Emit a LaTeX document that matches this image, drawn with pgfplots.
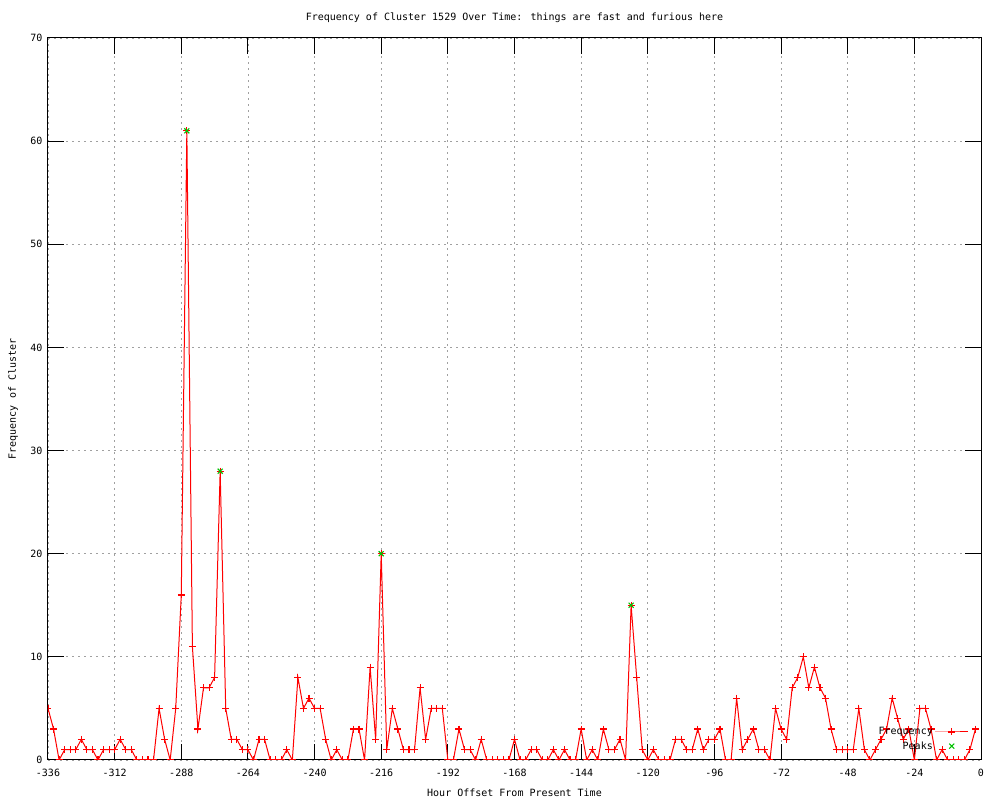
\documentclass[border=0pt]{standalone}
\usepackage{fontspec}
\setmainfont{DejaVu Sans Mono}
\usepackage{pgfplots}
\pgfplotsset{compat=1.18}
\definecolor{gpred}{RGB}{255,0,0}
\definecolor{gpgreen}{RGB}{0,192,0}
\definecolor{gridgray}{RGB}{160,160,160}
\begin{document}
\begin{tikzpicture}
\begin{axis}[
  name=ax,
  scale only axis,
  width=933pt, height=722pt,
  xmin=-336, xmax=0, ymin=0, ymax=70,
  xtick={-336,-312,-288,-264,-240,-216,-192,-168,-144,-120,-96,-72,-48,-24,0},
  xticklabels={-336,-312,-288,-264,-240,-216,-192,-168,-144,-120,-96,-72,-48,-24,0},
  ytick={0,10,20,30,40,50,60,70},
  yticklabels={0,10,20,30,40,50,60,70},
  minor tick num=0,
  major tick length=16pt,
  tick align=inside,
  tick style={black, line width=1pt},
  axis line style={black, line width=1pt},
  grid=major,
  major grid style={gridgray, line width=0.8pt, dash pattern=on 2pt off 4pt},
  xticklabel style={anchor=center, yshift=-13pt},
  yticklabel style={xshift=-2pt},
  title={Frequency of Cluster 1529 Over Time: things are fast and furious here},
  every axis title/.style={at={(rel axis cs:0.5,1)}, yshift=20pt, anchor=center},
  xlabel={Hour Offset From Present Time},
  every axis x label/.style={at={(rel axis cs:0.5,0)}, yshift=-33pt, anchor=center},
  ylabel={Frequency of Cluster},
  every axis y label/.style={at={(rel axis cs:0,0.5)}, xshift=-35pt, rotate=90, anchor=center},
  clip marker paths=true,
  legend plot pos=right,
  legend cell align=right,
  legend image code/.code={\draw[mark repeat=2,mark phase=2,#1] plot coordinates {(0pt,0pt) (16.5pt,0pt) (33pt,0pt)};},
  legend style={at={(rel axis cs:1,0)}, anchor=south east, xshift=-9pt, yshift=4.5pt, draw=none, fill=none, row sep=0pt,
    nodes={inner ysep=2.6pt}},
]
\addplot[color=gpred, draw=gpred, line width=1pt, mark=+, mark size=3.5pt, mark options={draw=gpred, color=gpred, solid, line width=1.1pt}] coordinates {
(-336,5) (-334,3) (-332,0) (-330,1) (-328,1) (-326,1) (-324,2) (-322,1) (-320,1) (-318,0)
(-316,1) (-314,1) (-312,1) (-310,2) (-308,1) (-306,1) (-304,0) (-302,0) (-300,0) (-298,0)
(-296,5) (-294,2) (-292,0) (-290,5) (-288,16) (-286,61) (-284,11) (-282,3) (-280,7) (-278,7)
(-276,8) (-274,28) (-272,5) (-270,2) (-268,2) (-266,1) (-264,1) (-262,0) (-260,2) (-258,2)
(-256,0) (-254,0) (-252,0) (-250,1) (-248,0) (-246,8) (-244,5) (-242,6) (-240,5) (-238,5)
(-236,2) (-234,0) (-232,1) (-230,0) (-228,0) (-226,3) (-224,3) (-222,0) (-220,9) (-218,2)
(-216,20) (-214,1) (-212,5) (-210,3) (-208,1) (-206,1) (-204,1) (-202,7) (-200,2) (-198,5)
(-196,5) (-194,5) (-192,0) (-190,0) (-188,3) (-186,1) (-184,1) (-182,0) (-180,2) (-178,0)
(-176,0) (-174,0) (-172,0) (-170,0) (-168,2) (-166,0) (-164,0) (-162,1) (-160,1) (-158,0)
(-156,0) (-154,1) (-152,0) (-150,1) (-148,0) (-146,0) (-144,3) (-142,0) (-140,1) (-138,0)
(-136,3) (-134,1) (-132,1) (-130,2) (-128,0) (-126,15) (-124,8) (-122,1) (-120,0) (-118,1)
(-116,0) (-114,0) (-112,0) (-110,2) (-108,2) (-106,1) (-104,1) (-102,3) (-100,1) (-98,2)
(-96,2) (-94,3) (-92,0) (-90,0) (-88,6) (-86,1) (-84,2) (-82,3) (-80,1) (-78,1)
(-76,0) (-74,5) (-72,3) (-70,2) (-68,7) (-66,8) (-64,10) (-62,7) (-60,9) (-58,7)
(-56,6) (-54,3) (-52,1) (-50,1) (-48,1) (-46,1) (-44,5) (-42,1) (-40,0) (-38,1)
(-36,2) (-34,3) (-32,6) (-30,4) (-28,2) (-26,3) (-24,0) (-22,5) (-20,5) (-18,3)
(-16,0) (-14,1) (-12,0) (-10,0) (-8,0) (-6,0) (-4,1) (-2,3)
};
\addlegendentry{Frequency}
\addplot[only marks, color=gpgreen, mark=x, mark size=3.5pt, mark options={draw=gpgreen, line width=1.1pt}] coordinates {
(-286,61) (-274,28) (-216,20) (-126,15)
};
\addlegendentry{Peaks}
\end{axis}
\pgfresetboundingbox
\path[use as bounding box] ([shift={(-48pt,-40pt)}]ax.south west) rectangle ([shift={(19pt,38pt)}]ax.north east);
\end{tikzpicture}
\end{document}
